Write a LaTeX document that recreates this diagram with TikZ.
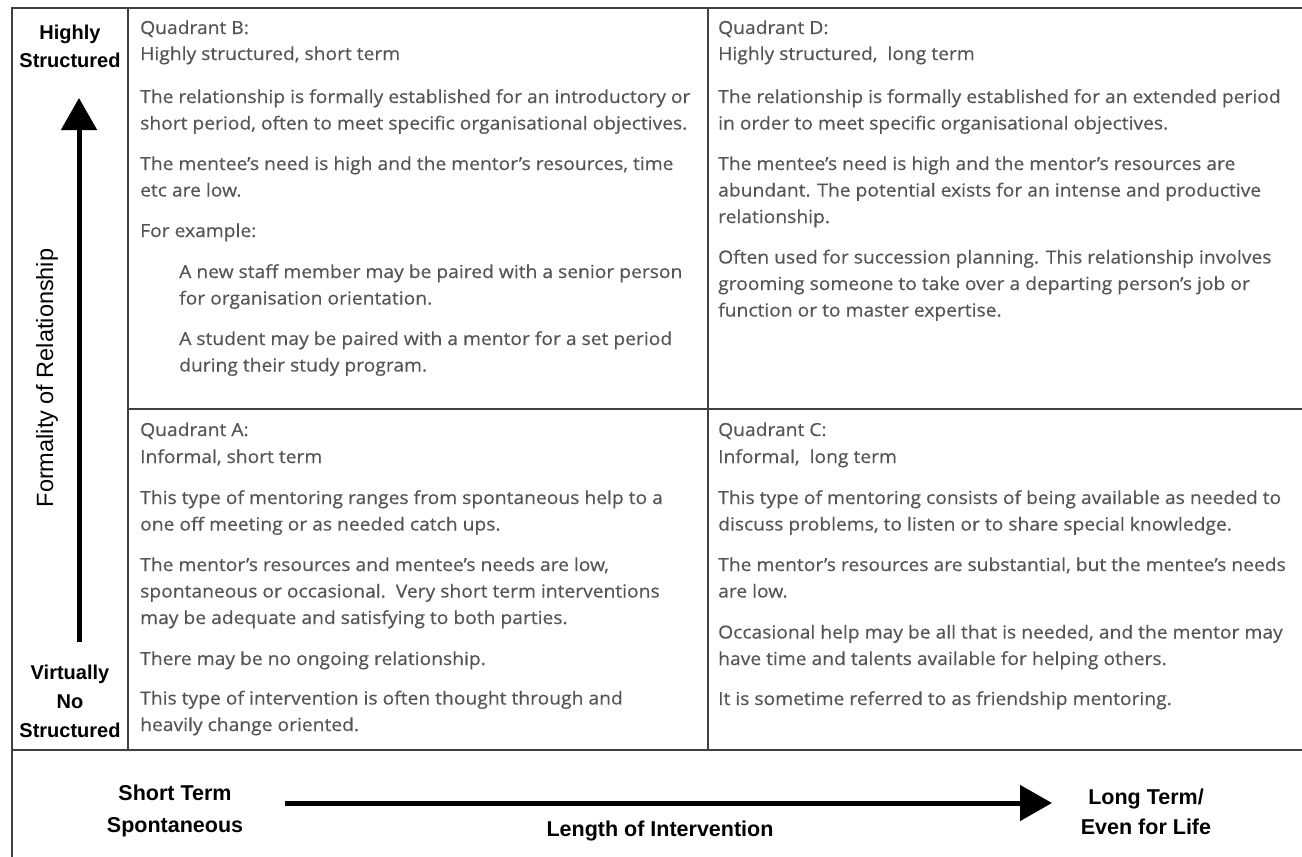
\documentclass[tikz,border=0pt]{standalone}
\usepackage{fontspec}
\usetikzlibrary{arrows.meta}
\newfontfamily\bodyfont[FakeStretch=1.07,FakeBold=0.4]{Open Sans}
\newfontfamily\lblfont{Liberation Sans}
\definecolor{txtgray}{HTML}{555555}
\definecolor{framegray}{HTML}{404040}
\begin{document}
\begin{tikzpicture}[x=1pt,y=-1pt,
  frame/.style={draw=framegray,line width=2.5pt},
  txt/.style={anchor=base west,inner sep=0pt,text=txtgray,font=\bodyfont\fontsize{18}{22}\selectfont},
  lbl/.style={align=center,inner sep=0pt,text=black},
  bigarrow/.style={line width=5pt,-{Triangle[length=32pt,width=35pt]}}]
\useasboundingbox (0,0) rectangle (1302,857);
\fill[white] (0,0) rectangle (1302,857);
% frame
\draw[frame] (12,857) -- (12,8) -- (1302,8);
\draw[frame] (12,750) -- (1302,750);
\draw[frame] (128,8) -- (128,750);
\draw[frame] (708,8) -- (708,750);
\draw[frame] (128,409) -- (1302,409);
% axis labels
\node[lbl,font=\lblfont\bfseries\fontsize{20}{28}\selectfont] (hs) at (70,46) {Highly\\Structured};
\node[lbl,font=\lblfont\bfseries\fontsize{20}{29}\selectfont] (vns) at (70,701) {Virtually\\No\\Structured};
\node[lbl,font=\lblfont\fontsize{23.5}{26}\selectfont,rotate=90] (form) at (47,378) {Formality of Relationship};
\node[lbl,font=\lblfont\bfseries\fontsize{21.5}{32}\selectfont] (st) at (175,811) {Short Term\\Spontaneous};
\node[lbl,font=\lblfont\bfseries\fontsize{21.5}{30}\selectfont] (lt) at (1146,812) {Long Term/\\Even for Life};
\node[lbl,font=\lblfont\bfseries\fontsize{21.5}{24}\selectfont] (len) at (660,831) {Length of Intervention};
% arrows
\coordinate (vs) at (79,642);
\coordinate (ve) at (79,98);
\coordinate (hs0) at (285,803);
\coordinate (he) at (1052,803);
\draw[bigarrow] (vs) -- (ve);
\draw[bigarrow] (hs0) -- (he);
% Quadrant B
\node[txt] (b1) at (140,34) {Quadrant B:};
\node[txt] (b2) at (140,60) {Highly structured, short term};
\node[txt] (b3) at (140,103) {The relationship is formally established for an introductory or};
\node[txt] (b4) at (140,129.5) {short period, often to meet specific organisational objectives.};
\node[txt] (b5) at (140,170) {The mentee’s need is high and the mentor’s resources, time};
\node[txt] (b6) at (140,196.5) {etc are low.};
\node[txt] (b7) at (140,237) {For example:};
\node[txt] (b8) at (179,278) {A new staff member may be paired with a senior person};
\node[txt] (b9) at (179,304.5) {for organisation orientation.};
\node[txt] (b10) at (179,345) {A student may be paired with a mentor for a set period};
\node[txt] (b11) at (179,371.5) {during their study program.};
% Quadrant D
\node[txt] (d1) at (718,34) {Quadrant D:};
\node[txt] (d2) at (718,60) {Highly structured,\ \ long term};
\node[txt] (d3) at (718,103) {The relationship is formally established for an extended period};
\node[txt] (d4) at (718,129.5) {in order to meet specific organisational objectives.};
\node[txt] (d5) at (718,170) {The mentee’s need is high and the mentor’s resources are};
\node[txt] (d6) at (718,196.5) {abundant. The potential exists for an intense and productive};
\node[txt] (d7) at (718,223) {relationship.};
\node[txt] (d8) at (718,263.5) {Often used for succession planning. This relationship involves};
\node[txt] (d9) at (718,290) {grooming someone to take over a departing person’s job or};
\node[txt] (d10) at (718,316.5) {function or to master expertise.};
% Quadrant A
\node[txt] (a1) at (140,436) {Quadrant A:};
\node[txt] (a2) at (140,463) {Informal, short term};
\node[txt] (a3) at (140,504) {This type of mentoring ranges from spontaneous help to a};
\node[txt] (a4) at (140,530.5) {one off meeting or as needed catch ups.};
\node[txt] (a5) at (140,571) {The mentor’s resources and mentee’s needs are low,};
\node[txt] (a6) at (140,597.5) {spontaneous or occasional.\ \ Very short term interventions};
\node[txt] (a7) at (140,624) {may be adequate and satisfying to both parties.};
\node[txt] (a8) at (140,665) {There may be no ongoing relationship.};
\node[txt] (a9) at (140,704.5) {This type of intervention is often thought through and};
\node[txt] (a10) at (140,731) {heavily change oriented.};
% Quadrant C
\node[txt] (c1) at (718,436) {Quadrant C:};
\node[txt] (c2) at (718,463) {Informal,\ \ long term};
\node[txt] (c3) at (718,504) {This type of mentoring consists of being available as needed to};
\node[txt] (c4) at (718,530.5) {discuss problems, to listen or to share special knowledge.};
\node[txt] (c5) at (718,571) {The mentor’s resources are substantial, but the mentee’s needs};
\node[txt] (c6) at (718,597.5) {are low.};
\node[txt] (c7) at (718,638.5) {Occasional help may be all that is needed, and the mentor may};
\node[txt] (c8) at (718,665) {have time and talents available for helping others.};
\node[txt] (c9) at (718,705) {It is sometime referred to as friendship mentoring.};
\end{tikzpicture}
\end{document}
